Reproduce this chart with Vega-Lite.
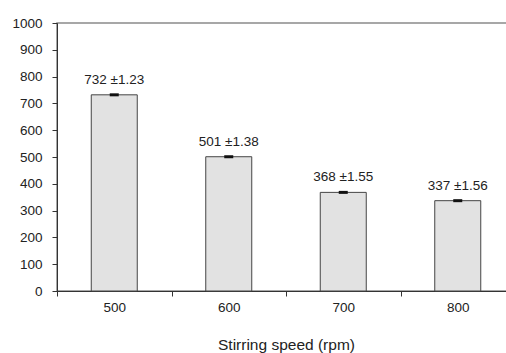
{
  "$schema": "https://vega.github.io/schema/vega-lite/v6.json",
  "width": 458,
  "height": 268,
  "autosize": "none",
  "padding": {"left": 57, "top": 23, "right": 0, "bottom": 62},
  "background": "white",
  "config": {
    "font": "Liberation Sans",
    "view": {"stroke": "#8a8a8a", "strokeWidth": 1.5},
    "axis": {"grid": false, "domainColor": "#333", "tickColor": "#333", "labelColor": "#222", "titleColor": "#222", "labelFontSize": 13.5, "tickSize": 5, "labelFont": "Liberation Sans", "titleFont": "Liberation Sans", "titleFontWeight": "normal"}
  },
  "data": {
    "values": [
      {"speed": "500", "mean": 732, "err": 1.23, "label": "732 ±1.23"},
      {"speed": "600", "mean": 501, "err": 1.38, "label": "501 ±1.38"},
      {"speed": "700", "mean": 368, "err": 1.55, "label": "368 ±1.55"},
      {"speed": "800", "mean": 337, "err": 1.56, "label": "337 ±1.56"}
    ]
  },
  "encoding": {
    "x": {
      "field": "speed", "type": "nominal", "sort": null,
      "scale": {"paddingInner": 0, "paddingOuter": 0},
      "axis": {"title": "Stirring speed (rpm)", "titleFontSize": 15.5, "titlePadding": 24, "labelAngle": 0, "labelPadding": 4, "tickBand": "extent"}
    },
    "y": {
      "field": "mean", "type": "quantitative",
      "scale": {"domain": [0, 1000], "nice": false},
      "axis": {"title": null, "format": "d", "values": [0,100,200,300,400,500,600,700,800,900,1000], "labelPadding": 10}
    }
  },
  "layer": [
    {"mark": {"type": "bar", "size": 46, "fill": "#e2e2e2", "stroke": "#444", "strokeWidth": 1}},
    {"mark": {"type": "tick", "size": 9, "thickness": 3, "color": "#111", "opacity": 1}},
    {"mark": {"type": "text", "baseline": "alphabetic", "dy": -11, "fontSize": 13.5, "color": "#222", "font": "Liberation Sans"}, "encoding": {"text": {"field": "label"}}}
  ]
}
